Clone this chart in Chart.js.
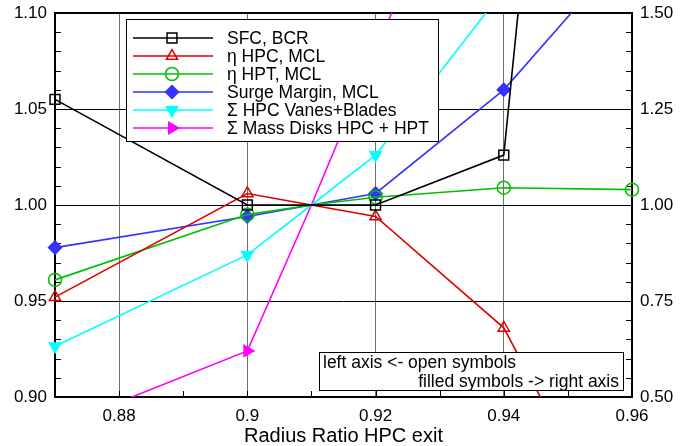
<!DOCTYPE html>
<html>
<head>
<meta charset="utf-8">
<script src="https://cdn.jsdelivr.net/npm/chart.js@4.4.0/dist/chart.umd.min.js"></script>
<style>
html, body { margin: 0; padding: 0; background: #fff; }
</style>
</head>
<body>
<canvas id="plot" width="689" height="446"></canvas>
<script>
// values
const radius_ratio = [0.87, 0.9, 0.91, 0.92, 0.94, 0.96];
const sfc_bcr          = [1.055, 1.000, 1.000, 1.000, 1.026, 1.69];
const eta_hpc          = [0.952, 1.006, 1.000, 0.994, 0.936, 0.81];
const eta_hpt          = [0.961, 0.995, 1.000, 1.004, 1.009, 1.008];
const surge_margin     = [0.889, 0.970, 1.000, 1.030, 1.30, 1.68];
const hpc_vanes_blades = [0.632, 0.870, 1.000, 1.130, 1.56, null];
const mass_disks       = [0.42, 0.620, 1.000, 1.40, 2.2, null];

const x_ticks = [0.88, 0.9, 0.92, 0.94, 0.96];
const left_ticks = [0.90, 0.95, 1.00, 1.05, 1.10];
const right_ticks = [0.50, 0.75, 1.00, 1.25, 1.50];

const FONT = 'Liberation Sans';

function series(ys) {
  return radius_ratio.map(function(x, i) { return {x: x, y: ys[i]}; });
}

// no symbol at the common reference point 0.91
function radius(r) {
  return function(ctx) { return radius_ratio[ctx.dataIndex] === 0.91 ? 0 : r; };
}

const datasets = [
  {label: 'SFC, BCR', data: series(sfc_bcr), yAxisID: 'yL', borderColor: '#000000',
   pointStyle: 'rect', rot: 0, r: 7, open: true},
  {label: '\u03B7 HPC, MCL', data: series(eta_hpc), yAxisID: 'yL', borderColor: '#dd0000',
   pointStyle: 'triangle', rot: 0, r: 6.5, open: true},
  {label: '\u03B7 HPT, MCL', data: series(eta_hpt), yAxisID: 'yL', borderColor: '#00c000',
   pointStyle: 'circle', rot: 0, r: 6.5, open: true},
  {label: 'Surge Margin, MCL', data: series(surge_margin), yAxisID: 'yR', borderColor: '#3333ff',
   pointStyle: 'rectRot', rot: 0, r: 6.5, open: false},
  {label: '\u03A3 HPC Vanes+Blades', data: series(hpc_vanes_blades), yAxisID: 'yR', borderColor: '#00ffff',
   pointStyle: 'triangle', rot: 180, r: 6.5, open: false},
  {label: '\u03A3 Mass Disks HPC + HPT', data: series(mass_disks), yAxisID: 'yR', borderColor: '#ff00ff',
   pointStyle: 'triangle', rot: 90, r: 6.5, open: false},
];

datasets.forEach(function(d) {
  d.borderWidth = 1.6;
  d.fill = false;
  d.tension = 0;
  d.pointRadius = radius(d.r);
  d.pointRotation = d.rot;
  d.pointBorderColor = d.borderColor;
  d.pointBackgroundColor = d.open ? 'rgba(0,0,0,0)' : d.borderColor;
  d.pointBorderWidth = 1.5;
  d.clip = {left: 10, right: 10, top: 0, bottom: 0};
});

function drawMarker(ctx, d, x, y) {
  ctx.save();
  ctx.strokeStyle = d.borderColor;
  ctx.fillStyle = d.open ? 'rgba(0,0,0,0)' : d.borderColor;
  ctx.lineWidth = 1.5;
  Chart.helpers.drawPoint(ctx, {pointStyle: d.pointStyle, radius: d.r, rotation: d.rot, borderWidth: 1.5}, x, y);
  ctx.restore();
}

// no extra room for overhanging tick labels, the plot box is fixed
function noPad(s) {
  s.paddingTop = 0; s.paddingBottom = 0; s.paddingLeft = 0; s.paddingRight = 0;
}

// frame + inward minor ticks
const framePlugin = {
  id: 'frame',
  beforeDatasetsDraw: function(chart) {
    const ctx = chart.ctx, a = chart.chartArea;
    const sx = chart.scales.x, sl = chart.scales.yL, sr = chart.scales.yR;
    ctx.save();
    ctx.strokeStyle = '#000';
    ctx.lineWidth = 1;
    ctx.beginPath();
    for (let k = 87; k <= 96; k++) {
      const px = Math.round(sx.getPixelForValue(k / 100)) + 0.5;
      ctx.moveTo(px, a.bottom); ctx.lineTo(px, a.bottom - 6);
    }
    for (let k = 90; k <= 110; k++) {
      const py = Math.round(sl.getPixelForValue(k / 100)) + 0.5;
      ctx.moveTo(a.left, py); ctx.lineTo(a.left + 6, py);
    }
    for (let k = 50; k <= 150; k += 5) {
      const py = Math.round(sr.getPixelForValue(k / 100)) + 0.5;
      ctx.moveTo(a.right, py); ctx.lineTo(a.right - 6, py);
    }
    ctx.stroke();
    ctx.lineWidth = 2;
    ctx.strokeRect(a.left, a.top, a.right - a.left, a.bottom - a.top);
    ctx.restore();
  }
};

// legend box and note box inside the plot
const boxPlugin = {
  id: 'boxes',
  afterDatasetsDraw: function(chart) {
    const ctx = chart.ctx;
    ctx.save();
    ctx.fillStyle = '#fff';
    ctx.strokeStyle = '#000';
    ctx.lineWidth = 1;
    ctx.fillRect(126.5, 19.5, 312, 122);
    ctx.strokeRect(126.5, 19.5, 312, 122);
    ctx.font = '17.5px "' + FONT + '"';
    ctx.textBaseline = 'middle';
    datasets.forEach(function(d, i) {
      const y = 38 + i * 18;
      ctx.strokeStyle = d.borderColor;
      ctx.lineWidth = 1.6;
      ctx.beginPath();
      ctx.moveTo(133, y); ctx.lineTo(213, y);
      ctx.stroke();
      drawMarker(ctx, d, 172, y);
      ctx.fillStyle = '#000';
      ctx.textAlign = 'left';
      ctx.fillText(d.label, 227, y + 1);
    });

    ctx.fillStyle = '#fff';
    ctx.strokeStyle = '#000';
    ctx.lineWidth = 1;
    ctx.fillRect(319.5, 352.5, 304, 38);
    ctx.strokeRect(319.5, 352.5, 304, 38);
    ctx.fillStyle = '#000';
    ctx.textAlign = 'left';
    ctx.fillText('left axis <- open symbols', 323, 363);
    ctx.textAlign = 'right';
    ctx.fillText('filled symbols -> right axis', 619, 382);
    ctx.restore();
  }
};

const tickFont = {family: FONT, size: 17};

const config = {
  type: 'line',
  data: {datasets: datasets},
  options: {
    responsive: false,
    animation: false,
    devicePixelRatio: 1,
    layout: {padding: {top: 13, left: 0, right: 0, bottom: 0}},
    plugins: {legend: {display: false}, tooltip: {enabled: false}},
    scales: {
      x: {
        type: 'linear', min: 0.87, max: 0.96,
        afterBuildTicks: function(s) { s.ticks = x_ticks.map(function(v) { return {value: v}; }); },
        afterFit: function(s) { s.height = 49; noPad(s); },
        grid: {color: '#707070', lineWidth: 1, drawTicks: false},
        border: {display: false},
        ticks: {padding: 9, color: '#000', font: tickFont, autoSkip: false, maxRotation: 0,
                callback: function(v) { return String(v); }},
        title: {display: true, text: 'Radius Ratio HPC exit', color: '#000', font: {family: FONT, size: 20},
                padding: {top: 0, bottom: -2}}
      },
      yL: {
        type: 'linear', position: 'left', min: 0.9, max: 1.1,
        afterBuildTicks: function(s) { s.ticks = left_ticks.map(function(v) { return {value: v}; }); },
        afterFit: function(s) { s.width = 55; noPad(s); },
        grid: {color: '#000', lineWidth: 1, drawTicks: false},
        border: {display: false},
        ticks: {padding: 8, color: '#000', font: tickFont, autoSkip: false,
                callback: function(v) { return v.toFixed(2); }}
      },
      yR: {
        type: 'linear', position: 'right', min: 0.5, max: 1.5,
        afterBuildTicks: function(s) { s.ticks = right_ticks.map(function(v) { return {value: v}; }); },
        afterFit: function(s) { s.width = 57; noPad(s); },
        grid: {drawOnChartArea: false, drawTicks: false},
        border: {display: false},
        ticks: {padding: 8, color: '#000', font: tickFont, autoSkip: false,
                callback: function(v) { return v.toFixed(2); }}
      }
    }
  },
  plugins: [framePlugin, boxPlugin]
};

const chart = new Chart(document.getElementById('plot'), config);
</script>
</body>
</html>
